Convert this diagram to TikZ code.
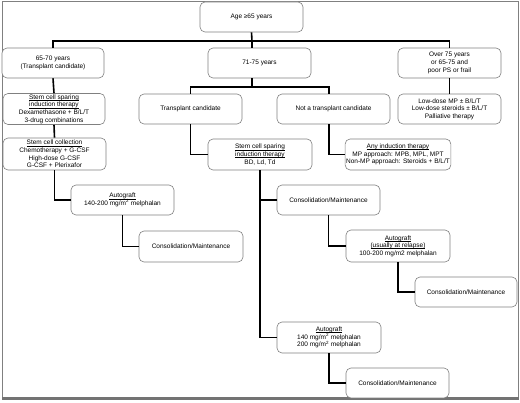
\documentclass[tikz,border=0pt]{standalone}
\usepackage{fontspec}
\setmainfont{Liberation Sans}
\newcommand{\ulabel}[1]{\setbox0\hbox{#1}\rlap{\rule[-1.1pt]{\wd0}{0.35pt}}\box0}
\begin{document}
\begin{tikzpicture}[x=1pt,y=-1pt,
  box/.style={draw=black!50, line width=0.6pt, rounded corners=5pt, fill=white,
    align=center, inner sep=1pt, minimum height=30pt,
    font=\fontsize{6.5}{7.6}\selectfont},
  link/.style={line width=1.6pt, black}]
  \useasboundingbox (0,0) rectangle (520,403);
  % Khung
  \draw[black!50, line width=0.7pt] (2,1) rectangle (518,397);
  \draw[black!55, line width=2.5pt] (2,398.5) -- (519,398.5);
  % Hàng trên
  \node[box, minimum width=103pt] (age) at (251.5,17) {Age ≥65 years};
  \node[box, minimum width=102pt] (young) at (53,63) {65-70 years\\(Transplant candidate)};
  \node[box, minimum width=103pt] (mid) at (259.5,63) {71-75 years};
  \node[box, minimum width=103pt] (old) at (449.5,63) {Over 75 years\\or 65-75 and\\poor PS or frail};
  % Nhánh 65-70
  \node[box, minimum width=102pt, minimum height=31pt] (sparingL) at (54,109)
    {\ulabel{Stem cell sparing}\\\ulabel{induction therapy}\\Dexamethasone + B/L/T\\3-drug combinations};
  \node[box, minimum width=103pt, minimum height=32pt] (collect) at (54.5,154)
    {\ulabel{Stem cell collection}\\Chemotherapy + G-CSF\\High-dose G-CSF\\G-CSF + Plerixafor};
  \node[box, minimum width=103pt] (autoL) at (122.5,200)
    {\ulabel{Autograft}\\140-200 mg/m\textsuperscript{2} melphalan};
  \node[box, minimum width=104pt, minimum height=31pt] (consL) at (191,246.5) {Consolidation/Maintenance};
  % Nhánh 71-75
  \node[box, minimum width=103pt] (tc) at (190.5,109) {Transplant candidate};
  \node[box, minimum width=113pt] (ntc) at (333.5,109) {Not a transplant candidate};
  \node[box, minimum width=104pt, minimum height=31pt] (sparingM) at (260,154.5)
    {\ulabel{Stem cell sparing}\\\ulabel{induction therapy}\\BD, Ld, Td};
  \node[box, minimum width=104pt, minimum height=31pt] (anyind) at (398,154.5)
    {\ulabel{Any induction therapy}\\MP approach: MPB, MPL, MPT\\Non-MP approach: Steroids + B/L/T};
  \node[box, minimum width=103pt] (consM) at (328.5,200) {Consolidation/Maintenance};
  \node[box, minimum width=104pt, minimum height=32pt] (autoR) at (398,246)
    {\ulabel{Autograft}\\\ulabel{(usually at relapse)}\\100-200 mg/m2 melphalan};
  \node[box, minimum width=102pt] (consR) at (466,292) {Consolidation/Maintenance};
  \node[box, minimum width=104pt, minimum height=31pt] (autoB) at (329,337.5)
    {\ulabel{Autograft}\\140 mg/m\textsuperscript{2} melphalan\\200 mg/m\textsuperscript{2} melphalan};
  \node[box, minimum width=103pt] (consB) at (397.5,383) {Consolidation/Maintenance};
  % Nhánh trên 75
  \node[box, minimum width=103pt] (lowdose) at (449.5,109)
    {Low-dose MP ± B/L/T\\Low-dose steroids ± B/L/T\\Palliative therapy};
  % Đường nối
  \coordinate (bus) at (252,41);
  \draw[link] (age.south) -- (bus);
  \draw[link] (young.north) |- (bus) -| (old.north);
  \draw[link] (bus) -- (bus |- mid.north);
  \coordinate (fork) at (252,87);
  \draw[link] (fork |- mid.south) -- (fork);
  \draw[link] (tc.north) |- (fork) -| ([xshift=-4.5pt]ntc.north);
  \draw[link] (young.south) -- (sparingL.north);
  \draw[link] (old.south) -- (lowdose.north);
  \draw[link] (sparingL.south) -- (collect.north);
  \draw[link] (collect.south) |- (autoL.west);
  \draw[link] (autoL.south) |- (consL.west);
  \draw[link] (tc.south) |- (sparingM.west);
  \draw[link] ([xshift=-4.5pt]ntc.south) |- (anyind.west);
  \draw[link] (sparingM.south) |- (consM.west);
  \draw[link] (sparingM.south) |- (autoB.west);
  \draw[link] (consM.south) |- (autoR.west);
  \draw[link] (autoR.south) |- (consR.west);
  \draw[link] (autoB.south) |- (consB.west);
\end{tikzpicture}
\end{document}
